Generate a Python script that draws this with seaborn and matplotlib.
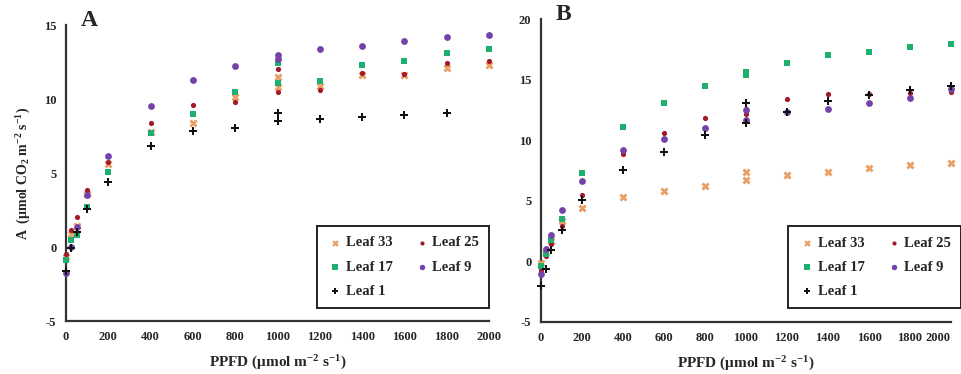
import numpy as np
import pandas as pd
import matplotlib
matplotlib.use("Agg")
import matplotlib.pyplot as plt
import seaborn as sns

# PPFD levels (1000 was measured twice)
ppfd = [0, 25, 50, 100, 200, 400, 600, 800, 1000, 1000, 1200, 1400, 1600, 1800, 2000]

leaves = ["Leaf 33", "Leaf 25", "Leaf 17", "Leaf 9", "Leaf 1"]

# Panel A: net assimilation (umol CO2 m-2 s-1)
a_leaf33 = [-0.7, 0.9, 1.4, 3.6, 5.6, 7.8, 8.4, 10.15, 11.5, 10.8, 10.9, 11.6, 11.6, 12.1, 12.3]
a_leaf25 = [-0.45, 1.15, 2.0, 3.85, 5.75, 8.35, 9.6, 9.8, 12.0, 10.5, 10.6, 11.75, 11.7, 12.4, 12.6]
a_leaf17 = [-0.9, 0.5, 0.8, 2.7, 5.1, 7.7, 9.0, 10.5, 12.4, 11.1, 11.2, 12.3, 12.6, 13.1, 13.4]
a_leaf9 = [-1.75, 0.0, 1.35, 3.5, 6.15, 9.5, 11.3, 12.25, 12.95, 12.7, 13.4, 13.6, 13.9, 14.2, 14.35]
a_leaf1 = [-1.6, -0.1, 1.0, 2.6, 4.4, 6.8, 7.85, 8.05, 9.05, 8.5, 8.65, 8.8, 8.9, 9.05, np.nan]

# Panel B
b_leaf33 = [-0.15, 0.8, 1.7, 3.3, 4.4, 5.3, 5.8, 6.2, 7.4, 6.7, 7.1, 7.4, 7.7, 7.95, 8.1]
b_leaf25 = [-0.7, 0.45, 1.4, 2.9, 5.5, 8.9, 10.6, 11.8, 12.6, 12.2, 13.4, 13.8, 13.8, 13.9, 14.0]
b_leaf17 = [-0.4, 0.6, 1.8, 3.5, 7.3, 11.05, 13.1, 14.5, 15.6, 15.4, 16.4, 17.0, 17.3, 17.7, 17.9]
b_leaf9 = [-1.0, 1.0, 2.2, 4.2, 6.6, 9.2, 10.1, 11.0, 12.5, 11.7, 12.3, 12.6, 13.1, 13.5, 14.2]
b_leaf1 = [-2.0, -0.6, 0.9, 2.6, 5.1, 7.55, 9.05, 10.4, 13.05, 11.4, 12.35, 13.2, 13.7, 14.15, 14.5]

panel_a = [a_leaf33, a_leaf25, a_leaf17, a_leaf9, a_leaf1]
panel_b = [b_leaf33, b_leaf25, b_leaf17, b_leaf9, b_leaf1]

styles = {
    "Leaf 33": dict(marker="X", color="#E9A066", s=34),
    "Leaf 25": dict(marker="o", color="#A3192B", s=14),
    "Leaf 17": dict(marker="s", color="#1FAF6E", s=22),
    "Leaf 9": dict(marker="o", color="#7442A8", s=24),
    "Leaf 1": dict(marker="P", color="#111111", s=38),
}

sns.set_style("white")
plt.rcParams["font.family"] = ["Liberation Serif", "DejaVu Serif"]
plt.rcParams["font.weight"] = "bold"
plt.rcParams["axes.unicode_minus"] = False
plt.rcParams["mathtext.fontset"] = "custom"
plt.rcParams["mathtext.rm"] = "Liberation Serif:bold"
plt.rcParams["mathtext.bf"] = "Liberation Serif:bold"
plt.rcParams["mathtext.default"] = "bf"

fig = plt.figure(figsize=(9.61, 3.74), dpi=100)
ax_a = fig.add_axes([66 / 961, 1 - 321 / 374, 423 / 961, 296 / 374])
ax_b = fig.add_axes([541 / 961, 1 - 322 / 374, 410 / 961, 303 / 374])


def draw_panel(ax, series, ylim, yticks, letter, legend_anchor):
    df = pd.DataFrame({"PPFD": ppfd * len(leaves),
                       "A": np.concatenate(series),
                       "leaf": np.repeat(leaves, len(ppfd))})
    for leaf in leaves:
        sub = df[df["leaf"] == leaf].dropna()
        st = styles[leaf]
        sns.scatterplot(data=sub, x="PPFD", y="A", ax=ax, marker=st["marker"],
                        color=st["color"], s=st["s"], linewidth=0, label=leaf,
                        zorder=3, clip_on=False)
    ax.set_xlim(0, 2000)
    ax.set_ylim(*ylim)
    ax.set_xticks(range(0, 2001, 200))
    ax.set_yticks(yticks)
    for side in ["top", "right"]:
        ax.spines[side].set_visible(False)
    for side in ["left", "bottom"]:
        ax.spines[side].set_linewidth(1.6)
        ax.spines[side].set_color("#333333")
    ax.tick_params(axis="both", direction="out", length=3, width=1.2,
                   labelsize=9, color="#333333", pad=4)
    for lab in ax.get_xticklabels() + ax.get_yticklabels():
        lab.set_fontweight("bold")
    ax.set_xlabel("PPFD (μmol m$^{-2}$ s$^{-1}$)", fontsize=11,
                  fontweight="bold", labelpad=8)
    ax.set_ylabel("")
    ax.text(0.035, 1.05, letter, transform=ax.transAxes, fontsize=17,
            fontweight="bold", va="top", ha="left")
    handles, labels = ax.get_legend_handles_labels()
    order = [0, 2, 4, 1, 3]
    leg = ax.legend([handles[i] for i in order], [labels[i] for i in order],
                    ncol=2, loc="lower right", bbox_to_anchor=legend_anchor,
                    fontsize=10.5, frameon=True, fancybox=False, framealpha=1,
                    edgecolor="#222222", handletextpad=0.1, columnspacing=1.4,
                    borderpad=0.7, labelspacing=0.75, handlelength=1.2,
                    markerscale=0.8, borderaxespad=0)
    leg.get_frame().set_linewidth(1.4)
    for t in leg.get_texts():
        t.set_fontweight("bold")


draw_panel(ax_a, panel_a, (-5, 15), [-5, 0, 5, 10, 15], "A", (1.0, 0.044))
draw_panel(ax_b, panel_b, (-5, 20), [-5, 0, 5, 10, 15, 20], "B", (1.024, 0.046))

# keep the last tick label of panel B inside the figure
ax_b.get_xticklabels()[-1].set_horizontalalignment("right")

ax_a.set_ylabel("A  (μmol CO$_2$ m$^{-2}$ s$^{-1}$)", fontsize=10,
                fontweight="bold", labelpad=8)

fig.savefig("out.png", dpi=100)
